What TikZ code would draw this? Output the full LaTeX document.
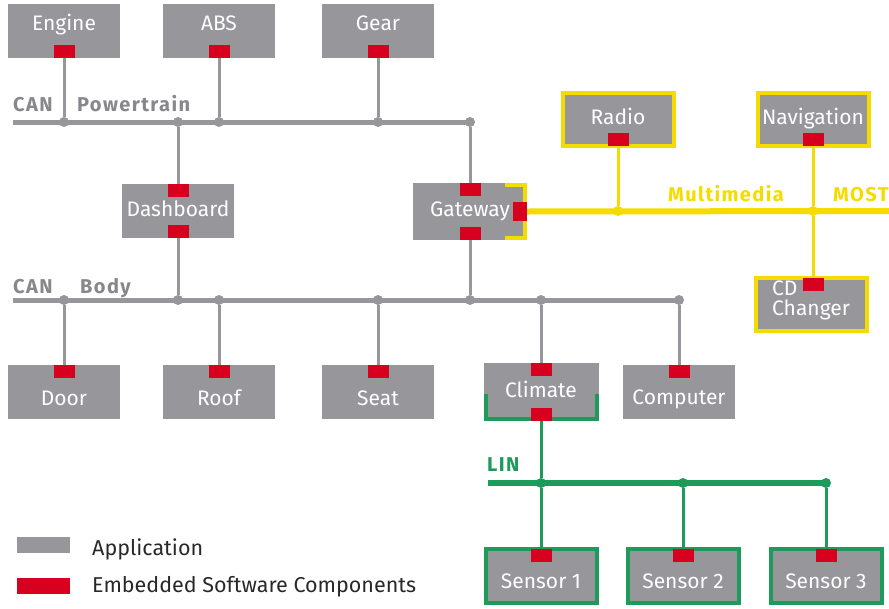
\documentclass[tikz,border=0pt]{standalone}
\usepackage{fontspec}
\setmainfont{Fira Sans}
\definecolor{appgrey}{RGB}{150,150,155}
\definecolor{escred}{RGB}{215,0,30}
\definecolor{mostyellow}{RGB}{245,220,0}
\definecolor{lingreen}{RGB}{30,155,90}
\definecolor{busgrey}{RGB}{135,135,140}
\definecolor{keygrey}{RGB}{40,40,40}
\newcommand{\pBoxFont}{\fontsize{21}{18.3}\selectfont}
\newcommand{\pBusFont}{\fontsize{20}{20}\selectfont\bfseries\addfontfeatures{LetterSpace=7}}
\newcommand{\pKeyFont}{\fontsize{21.5}{21.5}\selectfont}

\begin{document}
\begin{tikzpicture}[x=1pt,y=-1pt,
  ecu/.style={rectangle, fill=appgrey, text=white, inner sep=0pt, outer sep=0pt, minimum width=112pt, minimum height=54pt, font=\pBoxFont, text height=15pt, text depth=5pt},
  ecuup/.style={ecu, text height=13pt, text depth=15pt},
  ecudown/.style={ecu, text height=32pt, text depth=4pt},
  mostecu/.style={ecu, draw=mostyellow, line width=4pt, minimum width=111pt, minimum height=53pt},
  linecu/.style={ecu, draw=lingreen, line width=4pt, minimum width=111pt, minimum height=54pt, text height=28pt, text depth=4pt},
  chip/.style={rectangle, fill=escred, inner sep=0pt, outer sep=0pt, minimum width=21pt, minimum height=13pt},
  chipside/.style={chip, minimum width=14pt, minimum height=19pt},
  tap/.style={circle, fill=#1, inner sep=0pt, minimum size=10pt},
  canbus/.style={draw=appgrey, line width=5pt},
  canstub/.style={draw=appgrey, line width=3pt},
  mostbus/.style={draw=mostyellow, line width=6pt},
  moststub/.style={draw=mostyellow, line width=3pt},
  linbus/.style={draw=lingreen, line width=6pt},
  linstub/.style={draw=lingreen, line width=3pt},
  buslabel/.style={anchor=base west, inner sep=0pt, font=\pBusFont, text=#1},
  keybox/.style={rectangle, fill=#1, inner sep=0pt, minimum width=53pt, minimum height=16pt},
  keytext/.style={anchor=base west, inner sep=0pt, font=\pKeyFont, text=keygrey}]
\useasboundingbox (0,0) rectangle (889,608);

\node[ecuup] (engine) at (64,31) {Engine};
\node[ecuup] (abs) at (219,31) {ABS};
\node[ecuup] (gear) at (378,31) {Gear};
\node[chip, anchor=south] (engine-esc) at (engine.south) {};
\node[chip, anchor=south] (abs-esc) at (abs.south) {};
\node[chip, anchor=south] (gear-esc) at (gear.south) {};

\coordinate (pt-start) at (13,122);
\node[tap=appgrey] (pt-engine) at (64,122) {};
\node[tap=appgrey] (pt-dash) at (178,122) {};
\node[tap=appgrey] (pt-abs) at (219,122) {};
\node[tap=appgrey] (pt-gear) at (378,122) {};
\node[tap=appgrey] (pt-gw) at (470,122) {};
\draw[canbus] (pt-start) -- (pt-gw.center);
\node[buslabel=busgrey] (pt-can) at (13,111) {CAN};
\node[buslabel=busgrey] (pt-name) at (77,111) {Powertrain};

\node[ecu] (dash) at (178,211) {Dashboard};
\node[chip, anchor=north] (dash-top) at (dash.north) {};
\node[chip, anchor=south] (dash-bot) at (dash.south) {};

\node[ecu, minimum width=114pt, minimum height=57pt] (gw) at (470,211.5) {Gateway};
\draw[mostyellow, line width=4pt] ([xshift=-22pt,yshift=-2pt]gw.north east) -| ([xshift=-2pt]gw.east) |- ([xshift=-22pt,yshift=2pt]gw.south east);
\node[chip, anchor=north] (gw-top) at (gw.north) {};
\node[chip, anchor=south] (gw-bot) at (gw.south) {};
\node[chipside, anchor=east] (gw-most) at (gw.east) {};

\coordinate (b-start) at (13,300);
\node[tap=appgrey] (b-door) at (64,300) {};
\node[tap=appgrey] (b-dash) at (178,300) {};
\node[tap=appgrey] (b-roof) at (219,300) {};
\node[tap=appgrey] (b-seat) at (378,300) {};
\node[tap=appgrey] (b-gw) at (470,300) {};
\node[tap=appgrey] (b-clim) at (541,300) {};
\node[tap=appgrey] (b-comp) at (679,300) {};
\draw[canbus] (b-start) -- (b-comp.center);
\node[buslabel=busgrey] (b-can) at (13,293) {CAN};
\node[buslabel=busgrey] (b-name) at (80,293) {Body};

\node[ecudown] (door) at (64,391.5) {Door};
\node[ecudown] (roof) at (219,391.5) {Roof};
\node[ecudown] (seat) at (378,391.5) {Seat};
\node[ecudown, text height=30pt] (comp) at (679,391.5) {Computer};
\node[chip, anchor=north] (door-esc) at (door.north) {};
\node[chip, anchor=north] (roof-esc) at (roof.north) {};
\node[chip, anchor=north] (seat-esc) at (seat.north) {};
\node[chip, anchor=north] (comp-esc) at (comp.north) {};

\node[ecu, minimum width=115pt, minimum height=58pt] (clim) at (541,392) {Climate};
\draw[lingreen, line width=4pt] ([xshift=2pt,yshift=-2pt]clim.west) |- ([yshift=2pt]clim.south) -| ([xshift=-2pt,yshift=-2pt]clim.east);
\node[chip, anchor=north] (clim-top) at (clim.north) {};
\node[chip, anchor=south] (clim-lin) at (clim.south) {};

\node[mostecu] (radio) at (618,119.5) {Radio};
\node[mostecu] (nav) at (813,119.5) {Navigation};
\node[mostecu, align=left, text height=27pt, text depth=4pt] (cd) at (811,304) {CD\\[1.5pt]Changer};
\node[chip, anchor=south] (radio-esc) at (radio.south) {};
\node[chip, anchor=south] (nav-esc) at (nav.south) {};
\node[chip, anchor=north] (cd-esc) at ([xshift=2pt]cd.north) {};

\coordinate (m-end) at (889,211);
\node[tap=mostyellow] (m-radio) at (618,211) {};
\node[tap=mostyellow] (m-nav) at (813,211) {};
\draw[mostbus] (gw-most.east) -- (m-end);
\node[buslabel=mostyellow] (m-name) at (668,201.7) {Multimedia};
\node[buslabel=mostyellow] (m-most) at (833,201.7) {MOST};

\node[linecu] (s1) at (541,576) {Sensor 1};
\node[linecu] (s2) at (683,576) {Sensor 2};
\node[linecu] (s3) at (826,576) {Sensor 3};
\node[chip, anchor=north] (s1-esc) at (s1.north) {};
\node[chip, anchor=north] (s2-esc) at (s2.north) {};
\node[chip, anchor=north] (s3-esc) at (s3.north) {};

\coordinate (l-start) at (488,483);
\node[tap=lingreen] (l-s1) at (541,483) {};
\node[tap=lingreen] (l-s2) at (683,483) {};
\node[tap=lingreen] (l-s3) at (826,483) {};
\draw[linbus] (l-start) -- (l-s3.center);
\node[buslabel=lingreen] (l-name) at (487,471.7) {LIN};

\draw[canstub] (engine-esc) -- (pt-engine);
\draw[canstub] (abs-esc) -- (pt-abs);
\draw[canstub] (gear-esc) -- (pt-gear);
\draw[canstub] (pt-dash) -- (dash-top);
\draw[canstub] (dash-bot) -- (b-dash);
\draw[canstub] (pt-gw) -- (gw-top);
\draw[canstub] (gw-bot) -- (b-gw);
\draw[canstub] (b-door) -- (door-esc);
\draw[canstub] (b-roof) -- (roof-esc);
\draw[canstub] (b-seat) -- (seat-esc);
\draw[canstub] (b-clim) -- (clim-top);
\draw[canstub] (b-comp) -- (comp-esc);
\draw[moststub] (radio-esc) -- (m-radio);
\draw[moststub] (nav-esc) -- (m-nav);
\draw[moststub] (m-nav) -- (cd-esc);
\draw[linstub] (clim-lin) -- (l-s1);
\draw[linstub] (l-s1) -- (s1-esc);
\draw[linstub] (l-s2) -- (s2-esc);
\draw[linstub] (l-s3) -- (s3-esc);

\node[keybox=appgrey] (key-app) at (43.5,545) {};
\node[keybox=escred] (key-esc) at (43.5,586) {};
\node[keytext] (key-app-text) at (92,555) {Application};
\node[keytext] (key-esc-text) at (92,592) {Embedded Software Components};
\end{tikzpicture}
\end{document}
